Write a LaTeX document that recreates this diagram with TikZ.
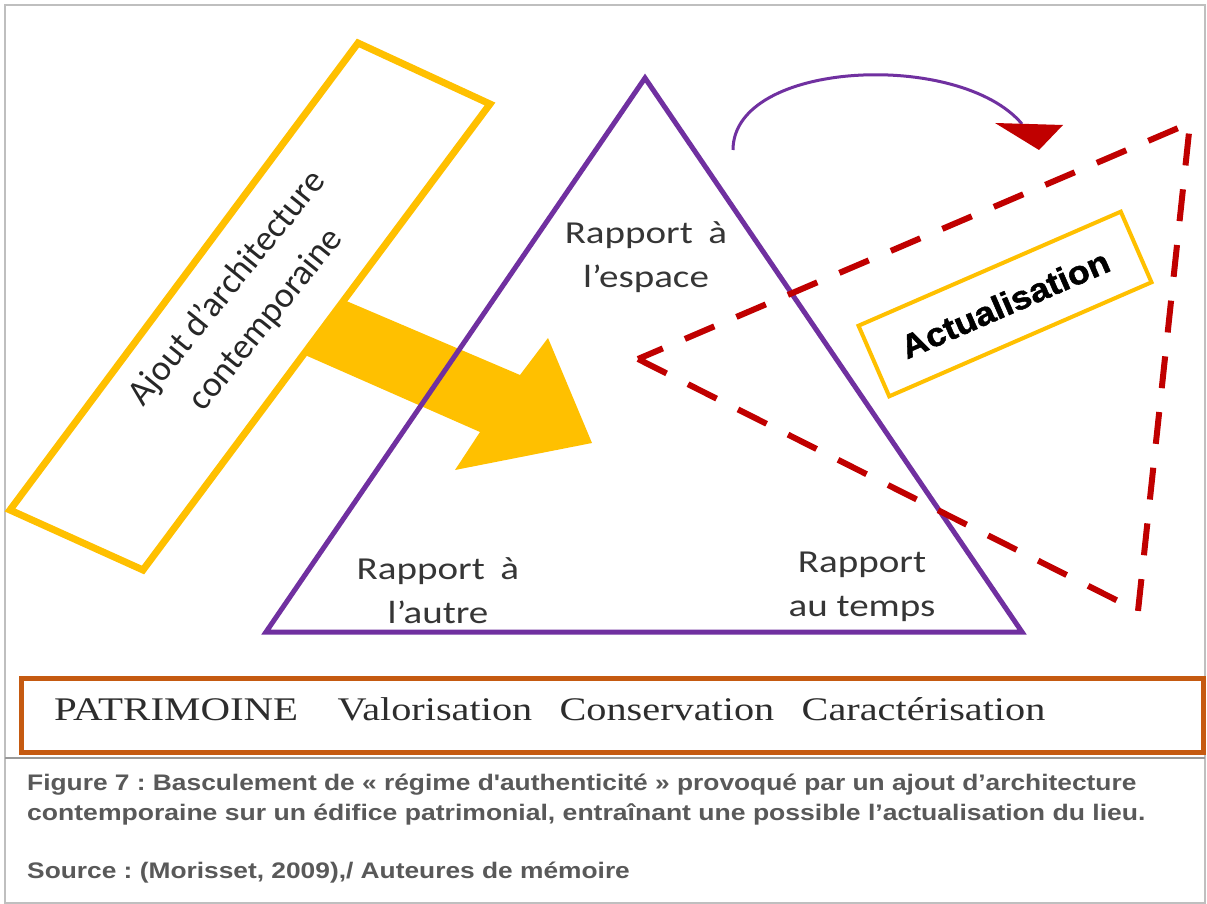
\documentclass[tikz,border=0pt]{standalone}
\usepackage{fontspec}
\setmainfont{Carlito}
\newfontfamily\capfont{Liberation Sans}
\newfontfamily\blackfont{Liberation Sans}[BoldFeatures={FakeBold=1.5}]
\newfontfamily\timesfont{Liberation Serif}
\usetikzlibrary{positioning}
\usetikzlibrary{calc}
\definecolor{pPurple}{HTML}{7030A0}
\definecolor{pYellow}{HTML}{FFC000}
\definecolor{pRed}{HTML}{C00000}
\definecolor{pOrange}{HTML}{C55A11}
\definecolor{pFrame}{HTML}{BFBFBF}
\definecolor{pText}{HTML}{404040}
\definecolor{pCaption}{HTML}{595959}
\newcommand{\elargi}[2][1.2]{\scalebox{#1}[1]{#2}}
\frenchspacing

\begin{document}
\begin{tikzpicture}[x=1pt, y=-1pt,
    rapport/.style={text=pText!85!black, font=\fontsize{32}{44}\selectfont, align=center, inner sep=0pt},
    serifword/.style={text=pText!70!black, font=\timesfont\fontsize{33}{40}\selectfont, inner sep=0pt},
    caption/.style={text=pCaption, font=\capfont\bfseries\fontsize{22.5}{30}\selectfont, inner sep=0pt}]
  \useasboundingbox (0,0) rectangle (1207,904);
  \fill[white] (0,0) rectangle (1207,904);

  % cadre
  \draw[pFrame, line width=2pt] (5,5) rectangle (1205,903);
  \draw[pFrame!80!black, line width=2pt] (5,758) -- (1205,758);

  % ajout d'architecture
  \coordinate (ajoutL) at (10,510);
  \coordinate (ajoutT) at (358,43);
  \coordinate (ajoutR) at (490,104);
  \coordinate (ajoutB) at (143,570);
  \draw[pYellow, line width=7pt] (ajoutL) -- (ajoutT) -- (ajoutR) -- (ajoutB) -- cycle;
  \node[rotate=51, text=pText!60!black, font=\fontsize{36}{50}\selectfont, align=center] (ajout) at (247,304) {Ajout d’architecture\\contemporaine};
  \fill[pYellow] (344,300) -- (520,375) -- (548,338) -- (592,443) -- (455,470) -- (480,432) -- (305,355) -- cycle;

  % triangle
  \coordinate (sommet) at (645,78);
  \coordinate (baseG) at (266,632);
  \coordinate (baseD) at (1022,632);
  \draw[pPurple, line width=5pt] (sommet) -- (baseG) -- (baseD) -- cycle;
  \node[rapport] (espace) at (646,257) {\elargi[1.22]{Rapport\hspace{.4em}à}\\\elargi[1.22]{l’espace}};
  \node[rapport] (autre) at (438,591) {\elargi[1.22]{Rapport\hspace{.4em}à}\\\elargi[1.22]{l’autre}};
  \node[rapport] (temps) at (862,587) {\elargi[1.22]{Rapport}\\\elargi[1.22]{au temps}};

  % actualisation
  \coordinate (actG) at (638,359);
  \coordinate (actB) at (1138,611);
  \coordinate (actD) at (1190,123);
  \draw[pRed, line width=6pt, dash pattern=on 32pt off 24pt] (actG) -- (actB) -- (actD) -- cycle;
  \node[draw=pYellow, line width=4pt, rotate=23.5, minimum width=286pt, minimum height=77pt,
    font=\blackfont\bfseries\fontsize{33}{40}\selectfont] (actu) at (1005,304) {\elargi[1.08]{Actualisation}};

  \coordinate (arcS) at (733,150);
  \coordinate (arcE) at (1022,124);
  \draw[pPurple, line width=3pt] (arcS) .. controls (733,60) and (960,50) .. (arcE);
  \coordinate (pointeG) at (995,123);
  \coordinate (pointeD) at (1063,125);
  \coordinate (pointeB) at (1039,150);
  \fill[pRed] (pointeG) -- (pointeD) -- (pointeB) -- cycle;

  % patrimoine
  \node[draw=pOrange, line width=5pt, minimum width=1182pt, minimum height=74pt, inner sep=0pt] (bande) at (612,715) {};
  \node[serifword, anchor=base west] (patri) at (54,720) {\elargi[1.24]{PATRIMOINE}};
  \node[serifword, base right=39pt of patri] (valor) {\elargi[1.22]{Valorisation}};
  \node[serifword, base right=27pt of valor] (conserv) {\elargi[1.22]{Conservation}};
  \node[serifword, base right=27pt of conserv] (caract) {\elargi[1.22]{Caractérisation}};

  % legende
  \node[caption, anchor=base west] (legende1) at (27,790) {\elargi[1.17]{Figure 7 : Basculement de « régime d\textquotesingle authenticité » provoqué par un ajout d’architecture}};
  \node[caption, anchor=base west] (legende2) at (27,820) {\elargi[1.18]{contemporaine sur un édifice patrimonial, entraînant une possible l’actualisation du lieu.}};
  \node[caption, anchor=base west] (source) at (27,878) {\elargi[1.17]{Source : (Morisset, 2009),/ Auteures de mémoire}};
\end{tikzpicture}
\end{document}
